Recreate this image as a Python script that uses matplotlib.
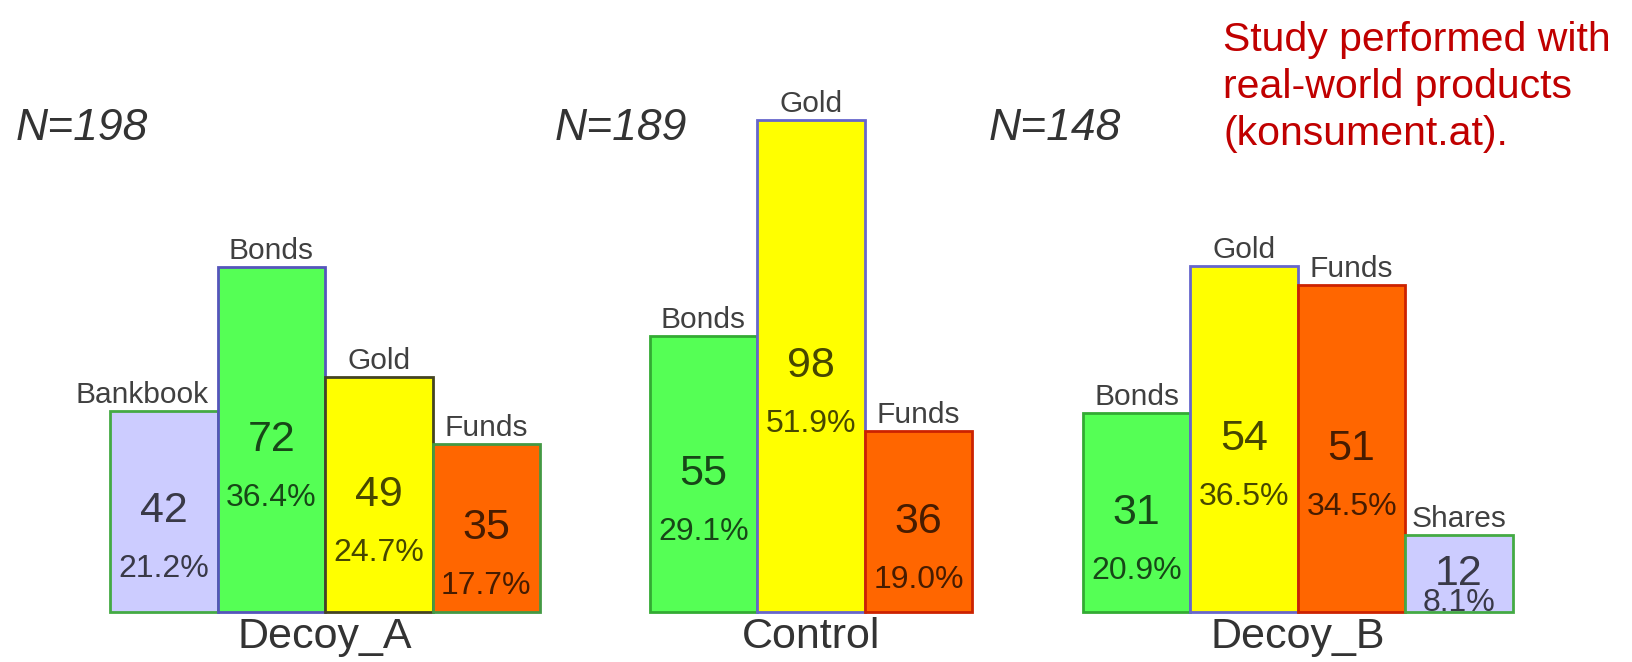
import matplotlib
matplotlib.use("Agg")
import matplotlib.pyplot as plt
from matplotlib.transforms import offset_copy

plt.rcParams["font.family"] = ["Liberation Sans", "DejaVu Sans"]

# choice counts per condition
groups = ["Decoy_A", "Control", "Decoy_B"]
decoy_a_labels = ["Bankbook", "Bonds", "Gold", "Funds"]
decoy_a_counts = [42, 72, 49, 35]
control_labels = ["Bonds", "Gold", "Funds"]
control_counts = [55, 98, 36]
decoy_b_labels = ["Bonds", "Gold", "Funds", "Shares"]
decoy_b_counts = [31, 54, 51, 12]
note = "Study performed with\nreal-world products\n(konsument.at)."

group_labels = [decoy_a_labels, control_labels, decoy_b_labels]
group_counts = [decoy_a_counts, control_counts, decoy_b_counts]

# styling
FILL = {"Bankbook": "#ccccff", "Shares": "#ccccff", "Bonds": "#55ff55",
        "Gold": "#ffff00", "Funds": "#ff6600"}
EDGES = [["#44aa44", "#5555bb", "#444422", "#449944"],
         ["#33aa33", "#6666cc", "#cc2200"],
         ["#33aa33", "#6666cc", "#cc2200", "#44aa44"]]
GROUP_START = [0.0, 5.02, 9.05]   # in bar widths
PX_X = 107.5                       # pixels per bar width
PX_Y = 9.48                        # pixels per percent point

W, H = 1632, 662
fig = plt.figure(figsize=(W / 100, H / 100), dpi=100)
ax = fig.add_axes([0, 0, 1, 1])
ax.set_xlim(-110 / PX_X, (W - 110) / PX_X)
ax.set_ylim(-(H - 612) / PX_Y, 612 / PX_Y)
ax.axis("off")

for g, (name, labels, counts) in enumerate(zip(groups, group_labels, group_counts)):
    n = sum(counts)
    pcts = [100 * c / n for c in counts]
    xs = [GROUP_START[g] + i for i in range(len(counts))]
    ax.bar(xs, pcts, width=1.0, align="edge",
           color=[FILL[l] for l in labels], edgecolor=EDGES[g], linewidth=2)

    for i, (x, lab, c, p) in enumerate(zip(xs, labels, counts, pcts)):
        # category name above the bar; pull left if the next bar is taller
        if i + 1 < len(pcts) and pcts[i + 1] > p and len(lab) > 6:
            tx, ha, dx = x + 1, "right", -9
        else:
            tx, ha, dx = x + 0.5, "center", 0
        tr = offset_copy(ax.transData, fig=fig, x=dx, y=2, units="dots")
        ax.text(tx, p, lab, ha=ha, va="bottom", fontsize=21.5, color="#404040",
                transform=tr)

        mid = p / 2
        ax.text(x + 0.5, mid, f"{c}", ha="center", va="center", fontsize=31,
                color="black", alpha=0.72)
        py = max(mid - 58 / PX_Y, 9 / PX_Y)
        ax.text(x + 0.5, py, f"{p:.1f}%", ha="center", va="center",
                fontsize=23, color="black", alpha=0.72)

    centre = GROUP_START[g] + len(counts) / 2
    ax.text(centre, -25 / PX_Y, name, ha="center", va="center", fontsize=31,
            color="#333333")
    ax.text(GROUP_START[g] - 0.88, (612 - 128) / PX_Y, f"N={n}", ha="left",
            va="center", fontsize=32, style="italic", color="#333333")

fig.text(1223 / W, 1 - 21 / H, note, ha="left", va="top", fontsize=29.5,
         color="#c00000", linespacing=1.3)

fig.savefig("out.png", dpi=100)
